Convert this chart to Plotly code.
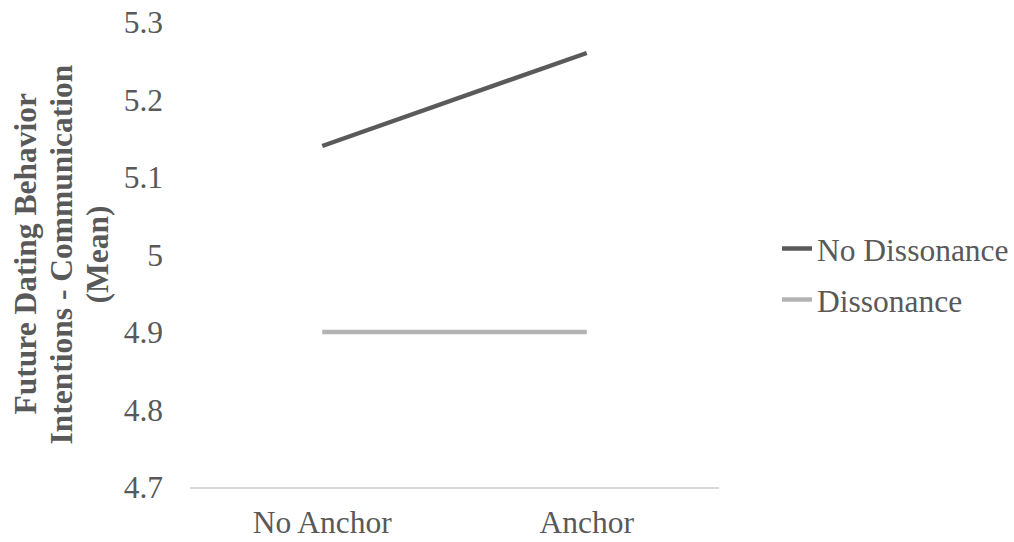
import plotly.graph_objects as go

categories = ["No Anchor", "Anchor"]
no_dissonance = [5.14, 5.26]
dissonance = [4.90, 4.90]
y_ticks = [4.7, 4.8, 4.9, 5.0, 5.1, 5.2, 5.3]
y_tick_labels = ["4.7", "4.8", "4.9", "5", "5.1", "5.2", "5.3"]
title_lines = ["Future Dating Behavior", "Intentions - Communication", "(Mean)"]

FONT = "Liberation Serif, Times New Roman, serif"
TXT = "#595959"
FS = 31.5

W, H = 1014, 542
L, T = 190, 22
R = W - 719
B = H - 487
PW = W - L - R

fig = go.Figure()
fig.add_trace(go.Scatter(x=categories, y=no_dissonance, mode="lines", name="No Dissonance",
                         legendgroup="a",
                         line=dict(color="#5a5a5a", width=4.5)))
fig.add_trace(go.Scatter(x=categories, y=dissonance, mode="lines", name="Dissonance",
                         legendgroup="b",
                         line=dict(color="#b3b3b3", width=4.5)))

title_x_page = [25, 61, 97]
annotations = []
for txt, xp in zip(title_lines, title_x_page):
    annotations.append(dict(
        text=txt, xref="paper", yref="paper", x=(xp - L) / PW, y=0.5,
        xanchor="center", yanchor="middle", textangle=-90, showarrow=False,
        font=dict(family=FONT, size=FS, color=TXT, weight="bold")))

fig.update_layout(
    width=W, height=H,
    margin=dict(l=L, r=R, t=T, b=B, autoexpand=False),
    paper_bgcolor="white", plot_bgcolor="white",
    font=dict(family=FONT, size=FS, color=TXT),
    showlegend=True,
    legend=dict(x=(777 - L) / PW, y=0.458, xanchor="left", yanchor="middle",
                font=dict(family=FONT, size=FS, color=TXT),
                tracegroupgap=7, itemwidth=30, bgcolor="rgba(0,0,0,0)"),
    xaxis=dict(type="category", range=[-0.5, 1.5], showgrid=False, zeroline=False,
               showline=True, linecolor="#d9d9d9", linewidth=1.5, ticks="",
               automargin=False, ticklabelstandoff=6, ticklabeloverflow="allow",
               tickfont=dict(family=FONT, size=FS, color=TXT)),
    yaxis=dict(range=[4.7, 5.3], tickvals=y_ticks, ticktext=y_tick_labels,
               showgrid=False, zeroline=False, showline=False, ticks="",
               automargin=False, ticklabelstandoff=26, ticklabeloverflow="allow",
               tickfont=dict(family=FONT, size=FS, color=TXT)),
    annotations=annotations,
)

fig.write_html("out.html", config={"displayModeBar": False},
               post_script="document.body.style.margin='0';")
